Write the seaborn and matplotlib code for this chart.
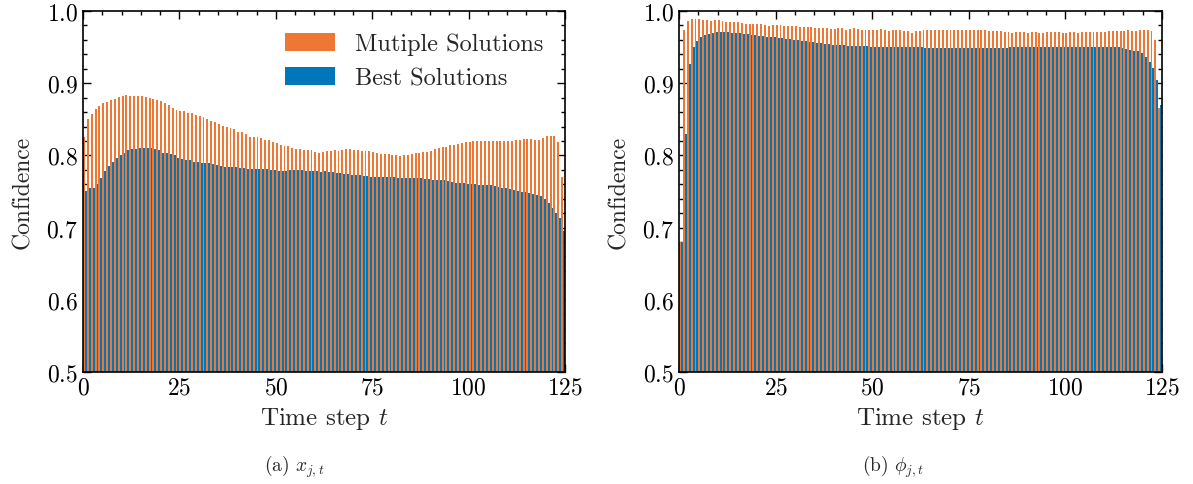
import numpy as np
import pandas as pd
import matplotlib
matplotlib.use("Agg")
import matplotlib.pyplot as plt
import seaborn as sns
from matplotlib.ticker import MultipleLocator

# time steps (bar bins [t, t+1])
time_steps = np.arange(125)

# (a) x_{j,t}
x_multiple = [
    0.825, 0.851, 0.857, 0.864, 0.868, 0.872, 0.874, 0.877, 0.878, 0.881,
    0.882, 0.884, 0.882, 0.882, 0.882, 0.882, 0.881, 0.880, 0.878, 0.877,
    0.875, 0.872, 0.870, 0.866, 0.863, 0.862, 0.862, 0.859, 0.859, 0.856,
    0.855, 0.853, 0.850, 0.848, 0.846, 0.843, 0.841, 0.839, 0.838, 0.836,
    0.833, 0.832, 0.829, 0.826, 0.826, 0.825, 0.824, 0.821, 0.821, 0.818,
    0.817, 0.815, 0.813, 0.813, 0.810, 0.809, 0.809, 0.808, 0.808, 0.808,
    0.805, 0.803, 0.805, 0.806, 0.806, 0.807, 0.806, 0.807, 0.809, 0.809,
    0.807, 0.807, 0.806, 0.806, 0.806, 0.805, 0.803, 0.802, 0.802, 0.802,
    0.801, 0.801, 0.799, 0.801, 0.801, 0.802, 0.803, 0.803, 0.805, 0.805,
    0.806, 0.809, 0.810, 0.812, 0.812, 0.814, 0.814, 0.816, 0.817, 0.819,
    0.819, 0.820, 0.820, 0.820, 0.820, 0.820, 0.820, 0.820, 0.820, 0.820,
    0.820, 0.820, 0.821, 0.821, 0.823, 0.823, 0.823, 0.821, 0.821, 0.824,
    0.827, 0.827, 0.827, 0.819, 0.770,
]
x_best = [
    0.751, 0.755, 0.755, 0.760, 0.769, 0.778, 0.785, 0.791, 0.796, 0.800,
    0.804, 0.807, 0.809, 0.809, 0.810, 0.810, 0.810, 0.810, 0.809, 0.807,
    0.804, 0.803, 0.802, 0.800, 0.796, 0.795, 0.794, 0.793, 0.791, 0.791,
    0.790, 0.790, 0.790, 0.788, 0.787, 0.785, 0.784, 0.784, 0.784, 0.784,
    0.783, 0.783, 0.781, 0.781, 0.781, 0.781, 0.781, 0.781, 0.780, 0.780,
    0.779, 0.779, 0.779, 0.780, 0.780, 0.780, 0.780, 0.779, 0.779, 0.779,
    0.779, 0.777, 0.778, 0.777, 0.777, 0.776, 0.776, 0.774, 0.774, 0.773,
    0.773, 0.773, 0.771, 0.771, 0.770, 0.770, 0.770, 0.770, 0.770, 0.770,
    0.770, 0.769, 0.769, 0.769, 0.769, 0.769, 0.769, 0.769, 0.767, 0.767,
    0.766, 0.766, 0.766, 0.766, 0.765, 0.763, 0.762, 0.762, 0.762, 0.760,
    0.760, 0.760, 0.759, 0.759, 0.759, 0.759, 0.758, 0.756, 0.755, 0.755,
    0.753, 0.752, 0.751, 0.749, 0.749, 0.748, 0.747, 0.745, 0.744, 0.740,
    0.734, 0.727, 0.720, 0.713, 0.696,
]

# (b) phi_{j,t}
phi_multiple = [
    0.680, 0.974, 0.986, 0.989, 0.989, 0.989, 0.988, 0.988, 0.986, 0.988,
    0.988, 0.986, 0.985, 0.985, 0.985, 0.985, 0.983, 0.982, 0.982, 0.982,
    0.982, 0.982, 0.981, 0.979, 0.981, 0.981, 0.981, 0.979, 0.979, 0.979,
    0.979, 0.978, 0.978, 0.978, 0.978, 0.976, 0.976, 0.976, 0.976, 0.975,
    0.975, 0.976, 0.976, 0.974, 0.975, 0.976, 0.975, 0.974, 0.974, 0.974,
    0.974, 0.974, 0.975, 0.974, 0.972, 0.974, 0.974, 0.974, 0.972, 0.972,
    0.969, 0.972, 0.972, 0.974, 0.974, 0.974, 0.974, 0.974, 0.974, 0.974,
    0.974, 0.974, 0.974, 0.974, 0.974, 0.974, 0.974, 0.974, 0.974, 0.974,
    0.972, 0.972, 0.972, 0.972, 0.971, 0.971, 0.969, 0.971, 0.971, 0.971,
    0.969, 0.971, 0.971, 0.969, 0.969, 0.971, 0.971, 0.971, 0.971, 0.969,
    0.969, 0.971, 0.971, 0.969, 0.971, 0.971, 0.971, 0.971, 0.971, 0.971,
    0.971, 0.972, 0.972, 0.972, 0.972, 0.972, 0.974, 0.972, 0.972, 0.974,
    0.974, 0.974, 0.972, 0.960, 0.865,
]
phi_best = [
    0.680, 0.830, 0.926, 0.950, 0.958, 0.964, 0.967, 0.968, 0.969, 0.971,
    0.971, 0.971, 0.971, 0.969, 0.969, 0.969, 0.968, 0.968, 0.967, 0.967,
    0.965, 0.965, 0.964, 0.964, 0.964, 0.963, 0.963, 0.961, 0.961, 0.960,
    0.960, 0.958, 0.958, 0.957, 0.957, 0.956, 0.956, 0.954, 0.954, 0.953,
    0.953, 0.953, 0.953, 0.951, 0.951, 0.951, 0.951, 0.951, 0.951, 0.950,
    0.950, 0.950, 0.950, 0.950, 0.950, 0.950, 0.950, 0.950, 0.950, 0.950,
    0.950, 0.950, 0.950, 0.949, 0.949, 0.949, 0.949, 0.949, 0.949, 0.949,
    0.949, 0.949, 0.949, 0.949, 0.949, 0.949, 0.949, 0.949, 0.949, 0.949,
    0.949, 0.949, 0.949, 0.949, 0.949, 0.950, 0.950, 0.950, 0.950, 0.950,
    0.950, 0.950, 0.950, 0.950, 0.950, 0.950, 0.950, 0.950, 0.950, 0.950,
    0.950, 0.950, 0.950, 0.950, 0.950, 0.950, 0.950, 0.950, 0.950, 0.950,
    0.950, 0.950, 0.950, 0.950, 0.949, 0.947, 0.946, 0.945, 0.944, 0.942,
    0.937, 0.930, 0.921, 0.905, 0.870,
]

series_names = ["Mutiple Solutions", "Best Solutions"]
colors = ["#EE7733", "#0077BB"]
captions = [r"(a) $x_{j,t}$", r"(b) $\phi_{j,t}$"]

sns.set_theme(style="ticks")
plt.rcParams["font.family"] = "serif"
plt.rcParams["font.serif"] = ["cmr10"]
plt.rcParams["mathtext.fontset"] = "cm"
plt.rcParams["axes.formatter.use_mathtext"] = True
plt.rcParams["axes.unicode_minus"] = False


def to_long(multiple, best):
    return pd.DataFrame({
        "t": np.concatenate([time_steps, time_steps]) + 0.5,
        "conf": np.concatenate([multiple, best]),
        "series": [series_names[0]] * len(multiple) + [series_names[1]] * len(best),
    })


fig = plt.figure(figsize=(11.93, 4.85), dpi=100)
ax1 = fig.add_axes([0.0696, 0.2309, 0.4040, 0.7443])
ax2 = fig.add_axes([0.5692, 0.2309, 0.4049, 0.7443])

panels = [(ax1, x_multiple, x_best), (ax2, phi_multiple, phi_best)]
for i, (ax, mult, best) in enumerate(panels):
    df = to_long(mult, best)
    sns.barplot(
        data=df, x="t", y="conf", hue="series", hue_order=series_names,
        palette=colors, saturation=1, native_scale=True, width=1.0,
        linewidth=0, errorbar=None, ax=ax, legend=(i == 0),
    )
    ax.set_xlim(0, 125)
    ax.set_ylim(0.5, 1.0)
    ax.set_xticks([0, 25, 50, 75, 100, 125])
    ax.xaxis.set_minor_locator(MultipleLocator(5))
    ax.yaxis.set_major_locator(MultipleLocator(0.1))
    ax.yaxis.set_minor_locator(MultipleLocator(0.02))
    ax.tick_params(which="both", direction="in", top=True, right=True,
                   labelsize=17, width=1.0, colors="black")
    ax.tick_params(which="major", length=6)
    ax.tick_params(which="minor", length=3)
    for sp in ax.spines.values():
        sp.set_linewidth(1.2)
        sp.set_color("black")
    ax.set_xlabel(r"Time step $t$", fontsize=18)
    ax.set_ylabel("Confidence", fontsize=17, labelpad=9)

handles, labels = ax1.get_legend_handles_labels()
ax1.legend(handles, labels, loc="upper right", frameon=False, fontsize=17.5,
           handlelength=2.05, handleheight=0.75, handletextpad=0.8,
           labelspacing=0.47, borderaxespad=0.5)

fig.text(0.2465, 0.037, captions[0], ha="center", va="center", fontsize=14)
fig.text(0.7486, 0.037, captions[1], ha="center", va="center", fontsize=14)

fig.savefig("out.png", dpi=100)
